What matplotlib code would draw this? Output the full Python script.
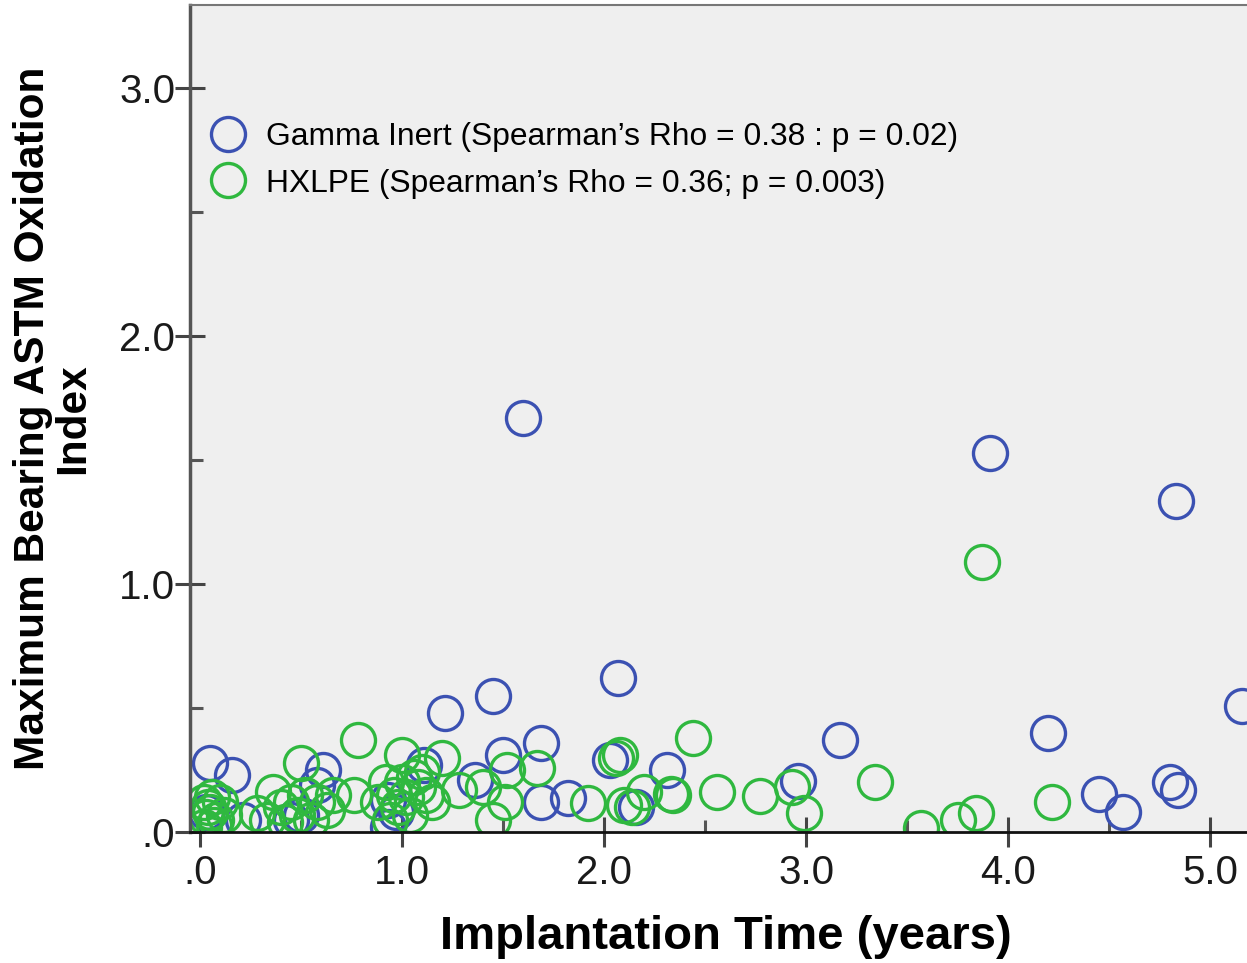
import matplotlib
matplotlib.use("Agg")
import matplotlib.pyplot as plt
from matplotlib.ticker import FixedLocator, FuncFormatter

# ---------------- data ----------------
gamma_x = [0.05, 0.16, 0.21, 0.58, 0.61, 0.50, 0.45, 0.93, 0.93, 0.97, 1.11, 1.21,
           1.36, 1.45, 1.50, 1.60, 1.69, 1.69, 1.82, 2.03, 2.07, 2.16, 2.31, 2.96,
           3.17, 3.91, 4.20, 4.45, 4.57, 4.80, 4.84, 4.83, 5.16, 0.03]
gamma_y = [0.28, 0.23, 0.05, 0.19, 0.25, 0.07, 0.05, 0.13, 0.02, 0.08, 0.27, 0.48,
           0.21, 0.55, 0.31, 1.67, 0.36, 0.12, 0.137, 0.29, 0.62, 0.10, 0.25, 0.205,
           0.37, 1.53, 0.40, 0.153, 0.08, 0.20, 0.17, 1.335, 0.51, 0.08]

hxlpe_x = [0.02, 0.04, 0.05, 0.06, 0.03, 0.08, 0.10, 0.07, 0.12, 0.02,
           0.28, 0.36, 0.33, 0.40, 0.42, 0.45, 0.48, 0.50, 0.52, 0.55, 0.58, 0.63, 0.66,
           0.76, 0.78, 0.88, 0.92, 0.94, 0.96, 0.98, 1.00, 1.00, 1.02, 1.04, 1.06, 1.08,
           1.10, 1.12, 1.15, 1.20, 1.28, 1.40, 1.45, 1.51, 1.52, 1.67, 1.92, 2.06, 2.08,
           2.10, 2.14, 2.20, 2.33, 2.34, 2.44, 2.56, 2.77, 2.93, 2.99, 3.34, 3.57, 3.75,
           3.84, 3.87, 4.22]
hxlpe_y = [0.12, 0.10, 0.08, 0.14, 0.06, 0.05, 0.12, 0.03, 0.07, 0.02,
           0.075, 0.16, 0.05, 0.10, 0.04, 0.12, 0.07, 0.28, 0.15, 0.05, 0.12, 0.09, 0.15,
           0.15, 0.37, 0.12, 0.20, 0.05, 0.15, 0.10, 0.31, 0.20, 0.14, 0.07, 0.22, 0.18,
           0.24, 0.15, 0.12, 0.30, 0.17, 0.18, 0.05, 0.12, 0.25, 0.26, 0.115, 0.30, 0.31,
           0.11, 0.10, 0.16, 0.155, 0.15, 0.38, 0.16, 0.145, 0.18, 0.075, 0.20, 0.015, 0.05,
           0.075, 1.09, 0.12]

labels = ["Gamma Inert (Spearman\u2019s Rho = 0.38 : p = 0.02)",
          "HXLPE (Spearman\u2019s Rho = 0.36; p = 0.003)"]
x_major = [0, 1, 2, 3, 4, 5]
x_minor = [0.5, 1.5, 2.5, 3.5, 4.5]
y_major = [0, 1, 2, 3]
y_minor = [0.5, 1.5, 2.5]
xlabel = "Implantation Time (years)"
ylabel = "Maximum Bearing ASTM Oxidation\nIndex"

# ---------------- style ----------------
blue = "#3b51b2"
green = "#2fb83f"
plt.rcParams["font.family"] = ["Liberation Sans", "DejaVu Sans"]

W, H = 1247, 963
fig = plt.figure(figsize=(W / 100, H / 100), dpi=100)
ax = fig.add_axes([190 / W, 1 - 832 / H, 1057 / W, 827 / H])
ax.set_facecolor("#efefef")

ms = 24.5
mew = 2.4
ax.plot(gamma_x, gamma_y, linestyle="none", marker="o", ms=ms, mew=mew,
        mfc="none", mec=blue, label=labels[0])
ax.plot(hxlpe_x, hxlpe_y, linestyle="none", marker="o", ms=ms, mew=mew,
        mfc="none", mec=green, label=labels[1])

ax.set_xlim(-0.05, 5.183)
ax.set_ylim(0, 3.335)

fmt = FuncFormatter(lambda v, p: ".0" if abs(v) < 1e-9 else f"{v:.1f}")
ax.xaxis.set_major_locator(FixedLocator(x_major))
ax.xaxis.set_minor_locator(FixedLocator(x_minor))
ax.yaxis.set_major_locator(FixedLocator(y_major))
ax.yaxis.set_minor_locator(FixedLocator(y_minor))
ax.xaxis.set_major_formatter(fmt)
ax.yaxis.set_major_formatter(fmt)

ax.tick_params(which="major", direction="inout", length=21, width=2.2,
               color="#444444", labelsize=29, labelcolor="#1a1a1a")
ax.tick_params(axis="x", which="major", pad=5)
ax.tick_params(axis="y", which="major", pad=0)
ax.tick_params(which="minor", direction="in", length=9, width=2.2, color="#555555")

ax.spines["right"].set_visible(False)
ax.spines["left"].set_color("#555555")
ax.spines["left"].set_linewidth(2.5)
ax.spines["top"].set_color("#777777")
ax.spines["top"].set_linewidth(1.5)
ax.spines["bottom"].set_color("#111111")
ax.spines["bottom"].set_linewidth(2)

ax.set_xlabel(xlabel, fontsize=34, fontweight="bold")
ax.xaxis.set_label_coords((726 - 190) / 1057, (832 - 937) / 827)
ax.xaxis.label.set_va("center")
ax.set_ylabel(ylabel, fontsize=30.5, fontweight="bold", linespacing=1.0)
ax.yaxis.set_label_coords((53 - 190) / 1057, 0.5)
ax.yaxis.label.set_va("center")

leg = ax.legend(loc="upper left", bbox_to_anchor=((209 - 190) / 1057, 1 - (122 - 5) / 827),
                frameon=False, fontsize=22.85, handlelength=1.2, handletextpad=0.6,
                borderpad=0, borderaxespad=0, labelspacing=0.52, numpoints=1)

fig.savefig("out.png", dpi=100)
